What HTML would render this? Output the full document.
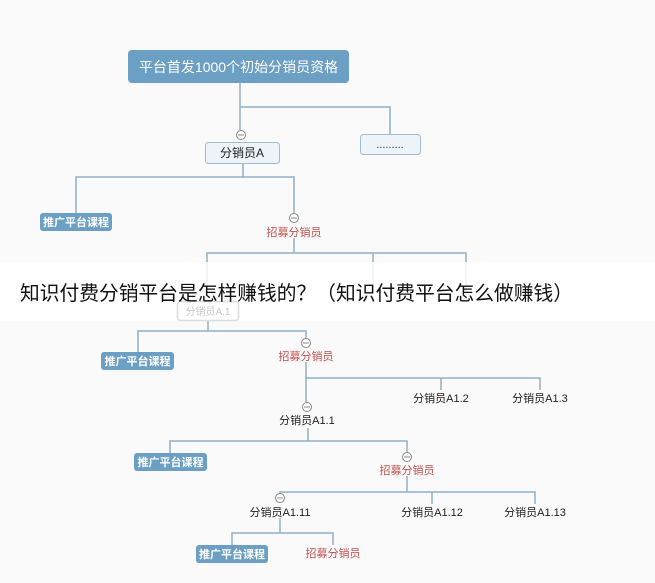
<!DOCTYPE html>
<html><head><meta charset="utf-8"><style>
html,body{margin:0;padding:0;width:655px;height:583px;overflow:hidden;background:#fafafa;}
svg{display:block}
text{font-family:"Liberation Sans","Noto Sans CJK SC",sans-serif;}
</style></head><body>
<svg width="655" height="583" viewBox="0 0 655 583" xmlns="http://www.w3.org/2000/svg">
<rect width="655" height="583" fill="#fafafa"/>
<g stroke="#8fb0c8" stroke-width="1.5" fill="none">
<path d="M240 83V107H390V134"/>
<path d="M240 107V130"/>
<path d="M243 163V177H76V213M243 177H294V213"/>
<path d="M294 238V253H207V262M294 253H466V262M373 253V262"/>
<path d="M208 320V331H138V352M208 331H306V338"/>
<path d="M306 362V378H540V390M441 378V390M306 378V402"/>
<path d="M308 428V441H170V453M308 441H407V452"/>
<path d="M407 476V492H535V504M432 492V504M407 492H280V493"/>
<path d="M280 518V533H232V545M280 533H333V545"/>
</g>
<rect x="0" y="262" width="655" height="59" fill="#ffffff"/>
<g stroke="#e4ecf2" stroke-width="1"><path d="M207 262V300M373 262V290M466 262V300"/></g>
<rect x="128" y="50" width="221" height="33" rx="4" fill="#6b9fc3"/>
<text x="238.5" y="72" font-size="14" fill="#fff" text-anchor="middle">平台首发1000个初始分销员资格</text>
<rect x="360.5" y="134.5" width="60" height="20" rx="3" fill="#edf3f8" stroke="#9fbcd2"/>
<text x="390" y="148" font-size="11" fill="#333" text-anchor="middle">.........</text>
<rect x="205.5" y="142.5" width="74" height="21" rx="3" fill="#edf3f8" stroke="#9fbcd2"/>
<text x="242" y="157" font-size="12" fill="#222" text-anchor="middle">分销员A</text>
<g fill="#fff" stroke="#888" stroke-width="1">
<circle cx="241" cy="135" r="4.5"/><circle cx="294" cy="218" r="4.5"/><circle cx="306" cy="343" r="4.5"/>
<circle cx="307" cy="407" r="4.5"/><circle cx="407" cy="457" r="4.5"/><circle cx="280" cy="498" r="4.5"/>
</g>
<g stroke="#888" stroke-width="1"><path d="M238 135h6M291 218h6M303 343h6M304 407h6M404 457h6M277 498h6"/></g>
<g fill="#6b9fc3">
<rect x="40" y="213" width="72" height="18" rx="3"/>
<rect x="101" y="352" width="73" height="18" rx="3"/>
<rect x="134" y="453" width="73" height="18" rx="3"/>
<rect x="196" y="545" width="72" height="18" rx="3"/>
</g>
<g font-size="11" fill="#fff" text-anchor="middle" font-weight="bold">
<text x="76" y="226">推广平台课程</text>
<text x="137.5" y="365">推广平台课程</text>
<text x="170.5" y="466">推广平台课程</text>
<text x="232" y="558">推广平台课程</text>
</g>
<g font-size="11" fill="#c0504d" text-anchor="middle">
<text x="294" y="236">招募分销员</text>
<text x="306" y="360">招募分销员</text>
<text x="407" y="474">招募分销员</text>
<text x="333" y="557">招募分销员</text>
</g>
<g font-size="11" fill="#222" text-anchor="middle">
<text x="441" y="402">分销员A1.2</text>
<text x="540" y="402">分销员A1.3</text>
<text x="307" y="424">分销员A1.1</text>
<text x="280" y="516">分销员A1.11</text>
<text x="432" y="516">分销员A1.12</text>
<text x="535" y="516">分销员A1.13</text>
</g>
<rect x="177.5" y="301.5" width="61" height="19" rx="3" fill="#fff" stroke="#dcdcdc" stroke-width="1.5"/>
<text x="208" y="315" font-size="10" fill="#c8c8c8" text-anchor="middle">分销员A.1</text>
<text x="20" y="300" font-size="20" fill="#111" textLength="553" lengthAdjust="spacingAndGlyphs">知识付费分销平台是怎样赚钱的？（知识付费平台怎么做赚钱）</text>
</svg>
</body></html>
